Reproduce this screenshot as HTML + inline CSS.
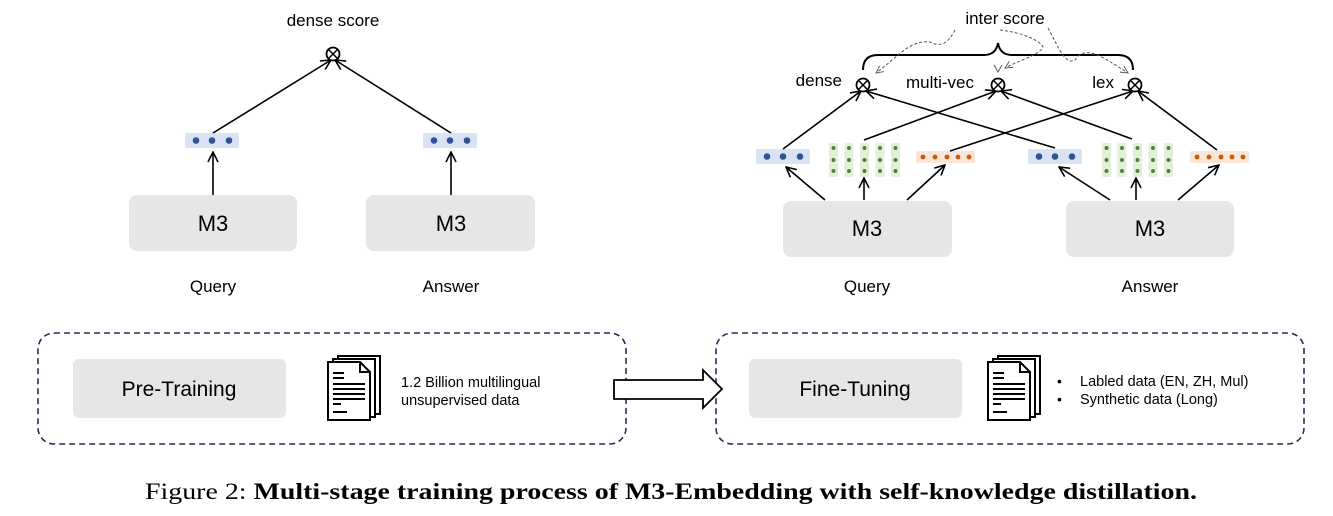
<!DOCTYPE html>
<html><head><meta charset="utf-8"><style>
html,body{margin:0;padding:0;background:#fff;}
svg{display:block;}
text{font-family:"Liberation Sans","DejaVu Sans",sans-serif;fill:#000;}
</style></head><body>
<svg width="1333" height="516" viewBox="0 0 1333 516" xmlns="http://www.w3.org/2000/svg">
<defs>
<marker id="ah" viewBox="0 0 12 12" refX="11" refY="6" markerWidth="12" markerHeight="12" markerUnits="userSpaceOnUse" orient="auto">
<path d="M1,1 L11,6 L1,11" fill="none" stroke="#000" stroke-width="1.6"/>
</marker>
<marker id="dah" viewBox="0 0 10 10" refX="9" refY="5" markerWidth="9" markerHeight="9" markerUnits="userSpaceOnUse" orient="auto">
<path d="M1,1 L9,5 L1,9" fill="none" stroke="#555" stroke-width="1"/>
</marker>
<g id="doc">
<rect x="10" y="0" width="42" height="58" fill="#fff" stroke="#000" stroke-width="2"/>
<rect x="5" y="3" width="42" height="58" fill="#fff" stroke="#000" stroke-width="2"/>
<path d="M0,6 H32 L42,16 V64 H0 Z" fill="#fff" stroke="#000" stroke-width="2"/>
<path d="M32,6 V16 H42" fill="none" stroke="#000" stroke-width="2"/>
<g stroke="#000" stroke-width="2">
<line x1="5" y1="17" x2="16" y2="17"/><line x1="5" y1="22" x2="16" y2="22"/>
<line x1="5" y1="28" x2="37" y2="28"/><line x1="5" y1="33" x2="37" y2="33"/>
<line x1="5" y1="38" x2="37" y2="38"/><line x1="5" y1="43" x2="37" y2="43"/>
<line x1="5" y1="48" x2="13" y2="48"/><line x1="5" y1="56" x2="19" y2="56"/>
</g>
</g>
<g id="otimes">
<circle r="6.5" fill="#fff" stroke="#000" stroke-width="1.8"/>
<line x1="-4.6" y1="-4.6" x2="4.6" y2="4.6" stroke="#000" stroke-width="1.5"/>
<line x1="-4.6" y1="4.6" x2="4.6" y2="-4.6" stroke="#000" stroke-width="1.5"/>
</g>
<g id="blue">
<rect x="0" y="0" width="54" height="15" rx="2" fill="#dae3f3"/>
<circle cx="11" cy="7.5" r="3.3" fill="#2f5597"/><circle cx="27" cy="7.5" r="3.3" fill="#2f5597"/><circle cx="44" cy="7.5" r="3.3" fill="#2f5597"/>
</g>
<g id="gcol">
<rect x="0" y="0" width="9" height="34" rx="1.5" fill="#e2f0d9"/>
<circle cx="4.5" cy="5" r="2" fill="#548235"/><circle cx="4.5" cy="17" r="2" fill="#548235"/><circle cx="4.5" cy="28" r="2" fill="#548235"/>
</g>
<g id="green">
<use href="#gcol" x="0"/><use href="#gcol" x="15.5"/><use href="#gcol" x="31"/><use href="#gcol" x="46.5"/><use href="#gcol" x="62"/>
</g>
<g id="orange">
<rect x="0" y="0" width="59" height="12" rx="2" fill="#fbe5d6"/>
<circle cx="7" cy="6" r="2.4" fill="#c55a11"/><circle cx="19" cy="6" r="2.4" fill="#c55a11"/><circle cx="31" cy="6" r="2.4" fill="#c55a11"/><circle cx="42" cy="6" r="2.4" fill="#c55a11"/><circle cx="53" cy="6" r="2.4" fill="#c55a11"/>
</g>
</defs>

<!-- LEFT -->
<text x="333" y="26" font-size="17" text-anchor="middle">dense score</text>
<use href="#blue" x="185" y="133"/>
<use href="#blue" x="423" y="133"/>
<rect x="129" y="195" width="168" height="56" rx="8" fill="#e6e6e6"/>
<rect x="366" y="195" width="169" height="56" rx="8" fill="#e6e6e6"/>
<text x="213" y="231" font-size="22" text-anchor="middle">M3</text>
<text x="451" y="231" font-size="22" text-anchor="middle">M3</text>
<text x="213" y="292" font-size="17" text-anchor="middle">Query</text>
<text x="451" y="292" font-size="17" text-anchor="middle">Answer</text>
<g stroke="#000" stroke-width="1.6" fill="none">
<line x1="213" y1="195" x2="213" y2="152" marker-end="url(#ah)"/>
<line x1="451" y1="195" x2="451" y2="152" marker-end="url(#ah)"/>
<line x1="213" y1="133" x2="331" y2="60" marker-end="url(#ah)"/>
<line x1="451" y1="133" x2="335" y2="60" marker-end="url(#ah)"/>
</g>
<use href="#otimes" x="333" y="54"/>

<!-- RIGHT -->
<text x="1005" y="24" font-size="17" text-anchor="middle">inter score</text>
<path d="M863,70 Q863,55 878,55 H984 Q996,55 998,43 Q1000,55 1012,55 H1118 Q1133,55 1133,70" fill="none" stroke="#000" stroke-width="2"/>
<g stroke="#555" stroke-width="1" stroke-dasharray="3,2" fill="none">
<path d="M955,30 C945,50 935,44 930,42 C910,40 900,55 876,73" marker-end="url(#dah)"/>
<path d="M1000,30 C1020,32 1040,40 1043,47 C1040,55 1015,62 1005,68" marker-end="url(#dah)"/>
<path d="M1048,28 C1060,50 1065,65 1075,60 C1085,45 1100,55 1128,73" marker-end="url(#dah)"/>
<path d="M994,65 L998,72 L1002,65" stroke-dasharray="none"/>
</g>
<text x="842" y="86" font-size="17" text-anchor="end">dense</text>
<text x="940" y="88" font-size="17" text-anchor="middle">multi-vec</text>
<text x="1114" y="88" font-size="17" text-anchor="end">lex</text>

<use href="#blue" x="756" y="149"/>
<use href="#green" x="829" y="143"/>
<use href="#orange" x="916" y="151"/>
<use href="#blue" x="1028" y="149"/>
<use href="#green" x="1102" y="143"/>
<use href="#orange" x="1190" y="151"/>

<rect x="783" y="201" width="169" height="56" rx="8" fill="#e6e6e6"/>
<rect x="1066" y="201" width="168" height="56" rx="8" fill="#e6e6e6"/>
<text x="867" y="236" font-size="22" text-anchor="middle">M3</text>
<text x="1150" y="236" font-size="22" text-anchor="middle">M3</text>
<text x="867" y="292" font-size="17" text-anchor="middle">Query</text>
<text x="1150" y="292" font-size="17" text-anchor="middle">Answer</text>

<g stroke="#000" stroke-width="1.6" fill="none">
<line x1="825" y1="200" x2="786" y2="167" marker-end="url(#ah)"/>
<line x1="864" y1="200" x2="864" y2="178" marker-end="url(#ah)"/>
<line x1="907" y1="200" x2="945" y2="165" marker-end="url(#ah)"/>
<line x1="1110" y1="200" x2="1059" y2="167" marker-end="url(#ah)"/>
<line x1="1136" y1="200" x2="1136" y2="178" marker-end="url(#ah)"/>
<line x1="1178" y1="200" x2="1219" y2="165" marker-end="url(#ah)"/>
<line x1="783" y1="149" x2="861" y2="91" marker-end="url(#ah)"/>
<line x1="1055" y1="148" x2="866" y2="91" marker-end="url(#ah)"/>
<line x1="864" y1="140" x2="996" y2="91" marker-end="url(#ah)"/>
<line x1="1132" y1="139" x2="1001" y2="91" marker-end="url(#ah)"/>
<line x1="950" y1="151" x2="1133" y2="91" marker-end="url(#ah)"/>
<line x1="1217" y1="150" x2="1138" y2="91" marker-end="url(#ah)"/>
</g>
<use href="#otimes" x="863" y="85"/>
<use href="#otimes" x="998" y="85"/>
<use href="#otimes" x="1135" y="85"/>

<!-- BOTTOM -->
<rect x="38" y="333" width="588" height="111" rx="16" fill="none" stroke="#203050" stroke-width="1.6" stroke-dasharray="6,4"/>
<rect x="716" y="333" width="588" height="111" rx="16" fill="none" stroke="#203050" stroke-width="1.6" stroke-dasharray="6,4"/>
<rect x="73" y="359" width="213" height="59" rx="6" fill="#e6e6e6"/>
<rect x="749" y="359" width="213" height="59" rx="6" fill="#e6e6e6"/>
<text x="179" y="396" font-size="21" text-anchor="middle">Pre-Training</text>
<text x="855" y="396" font-size="21" text-anchor="middle">Fine-Tuning</text>
<use href="#doc" x="328" y="356"/>
<use href="#doc" x="988" y="356"/>
<text x="401" y="387" font-size="14.5">1.2 Billion multilingual</text>
<text x="401" y="405" font-size="14.5">unsupervised data</text>
<text x="1057" y="386" font-size="14">•</text>
<text x="1057" y="404" font-size="14">•</text>
<text x="1080" y="386" font-size="14.5">Labled data (EN, ZH, Mul)</text>
<text x="1080" y="404" font-size="14.5">Synthetic data (Long)</text>
<path d="M614,380 H703 V370 L722,389 L703,408 V399 H614 Z" fill="#fff" stroke="#000" stroke-width="1.8"/>

<text x="145" y="499" font-size="23.5" textLength="1052" lengthAdjust="spacingAndGlyphs" style="font-family:'Liberation Serif',serif">Figure 2: <tspan font-weight="bold">Multi-stage training process of M3-Embedding with self-knowledge distillation.</tspan></text>
</svg>
</body></html>
